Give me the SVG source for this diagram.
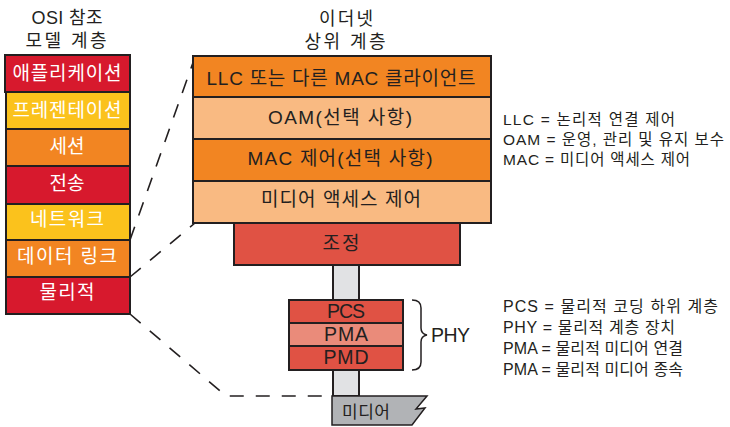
<svg xmlns="http://www.w3.org/2000/svg" width="730" height="427" viewBox="0 0 730 427">
<style>
.t{font-family:"Liberation Sans","Noto Sans CJK KR",sans-serif;fill:#231F20;}
.w{font-family:"Liberation Sans","Noto Sans CJK KR",sans-serif;fill:#FFFFFF;font-size:19px;text-anchor:middle;}
.d{font-family:"Liberation Sans","Noto Sans CJK KR",sans-serif;fill:#231F20;font-size:19px;text-anchor:middle;}
.p{font-family:"Liberation Sans","Noto Sans CJK KR",sans-serif;fill:#231F20;font-size:19.5px;text-anchor:middle;}
.b{stroke:#231F20;stroke-width:2;}
.red{fill:#D7192D;}.yel{fill:#FBC21C;}.org{fill:#F28522;}.lt{fill:#F9BA82;}.rec{fill:#E05244;}.pma{fill:#EA8B7A;}
.leg{font-family:"Liberation Sans","Noto Sans CJK KR",sans-serif;fill:#231F20;font-size:15.5px;}
.leg2{font-family:"Liberation Sans","Noto Sans CJK KR",sans-serif;fill:#231F20;font-size:16px;}
.dash{fill:none;stroke:#231F20;stroke-width:1.6;stroke-dasharray:14 12;}
</style>
<g id="titles">
<text class="t" x="67" y="24" font-size="18" text-anchor="middle" textLength="71">OSI 참조</text>
<text class="t" x="66" y="47" font-size="18" text-anchor="middle" textLength="81">모델 계층</text>
<text class="t" x="346" y="25" font-size="18" text-anchor="middle" textLength="54">이더넷</text>
<text class="t" x="345" y="48" font-size="18" text-anchor="middle" textLength="81">상위 계층</text>
</g>
<g id="connectors">
<path class="dash" d="M130 240 L195 57"/>
<path class="dash" d="M130 277 L195 223"/>
<path class="dash" d="M130 314 L226 396 L333 396"/>
</g>
<g id="osi">
<g id="osi-app"><rect class="red b" x="5" y="55" width="125" height="37"/><text class="w" x="67" y="80" textLength="109">애플리케이션</text></g>
<g id="osi-pres"><rect class="yel b" x="6" y="92" width="124" height="37"/><text class="w" x="67" y="117" textLength="109">프레젠테이션</text></g>
<g id="osi-sess"><rect class="org b" x="6" y="129" width="124" height="37"/><text class="w" x="67" y="153" textLength="35">세션</text></g>
<g id="osi-trans"><rect class="red b" x="6" y="166" width="124" height="38"/><text class="w" x="67" y="190" textLength="35">전송</text></g>
<g id="osi-net"><rect class="yel b" x="6" y="204" width="124" height="36"/><text class="w" x="67" y="226" textLength="74">네트워크</text></g>
<g id="osi-dl"><rect class="org b" x="6" y="240" width="124" height="37"/><text class="w" x="67" y="263" textLength="100">데이터 링크</text></g>
<g id="osi-phy"><rect class="red b" x="6" y="277" width="124" height="37"/><text class="w" x="67" y="299" textLength="55">물리적</text></g>
</g>
<g id="eth">
<g id="llc"><rect class="org b" x="193" y="56" width="298" height="41"/><text class="d" x="341" y="85" textLength="269">LLC 또는 다른 MAC 클라이언트</text></g>
<g id="oam"><rect class="lt b" x="193" y="97" width="298" height="42"/><text class="d" x="340" y="124" textLength="144">OAM(선택 사항)</text></g>
<g id="macc"><rect class="org b" x="193" y="139" width="298" height="42"/><text class="d" x="340" y="165" textLength="185">MAC 제어(선택 사항)</text></g>
<g id="mac"><rect class="lt b" x="193" y="181" width="298" height="42"/><text class="d" x="341" y="206" textLength="160">미디어 액세스 제어</text></g>
<g id="column"><rect x="333" y="265" width="26" height="131" fill="#E1E2E4" class="b"/></g>
<g id="rs"><rect class="rec b" x="234" y="223" width="226" height="42"/><text class="d" x="341" y="250" textLength="37">조정</text></g>
<g id="pcs"><rect class="rec b" x="289" y="300" width="114" height="23"/><text class="p" x="346" y="318" textLength="38">PCS</text></g>
<g id="pmaa"><rect class="pma b" x="289" y="323" width="114" height="23"/><text class="p" x="346" y="341" textLength="44">PMA</text></g>
<g id="pmd"><rect class="rec b" x="289" y="346" width="114" height="24"/><text class="p" x="346" y="364" textLength="45">PMD</text></g>
<g id="phy">
<path d="M412 300 Q421 300 421 308 L421 328 Q421 334 427 335 Q421 336 421 342 L421 362 Q421 370 412 370" fill="none" stroke="#231F20" stroke-width="1.5"/>
<text class="t" x="431" y="342" font-size="19.5" textLength="39">PHY</text>
</g>
<g id="media">
<path d="M332 396 L427 396 L416 409 L425 408 L412 425 L332 425 Z" fill="#B1B3B6" stroke="#231F20" stroke-width="1.5" stroke-linejoin="miter"/>
<text class="t" x="366" y="418" font-size="17" text-anchor="middle" textLength="48">미디어</text>
</g>
</g>
<g id="legend1">
<text class="leg" x="503" y="125" textLength="172">LLC = 논리적 연결 제어</text>
<text class="leg" x="503" y="145" textLength="221">OAM = 운영, 관리 및 유지 보수</text>
<text class="leg" x="503" y="165" textLength="187">MAC = 미디어 액세스 제어</text>
</g>
<g id="legend2">
<text class="leg2" x="503" y="312" textLength="215">PCS = 물리적 코딩 하위 계층</text>
<text class="leg2" x="503" y="333" textLength="172">PHY = 물리적 계층 장치</text>
<text class="leg2" x="503" y="354" textLength="180">PMA = 물리적 미디어 연결</text>
<text class="leg2" x="503" y="375" textLength="180">PMA = 물리적 미디어 종속</text>
</g>
</svg>
